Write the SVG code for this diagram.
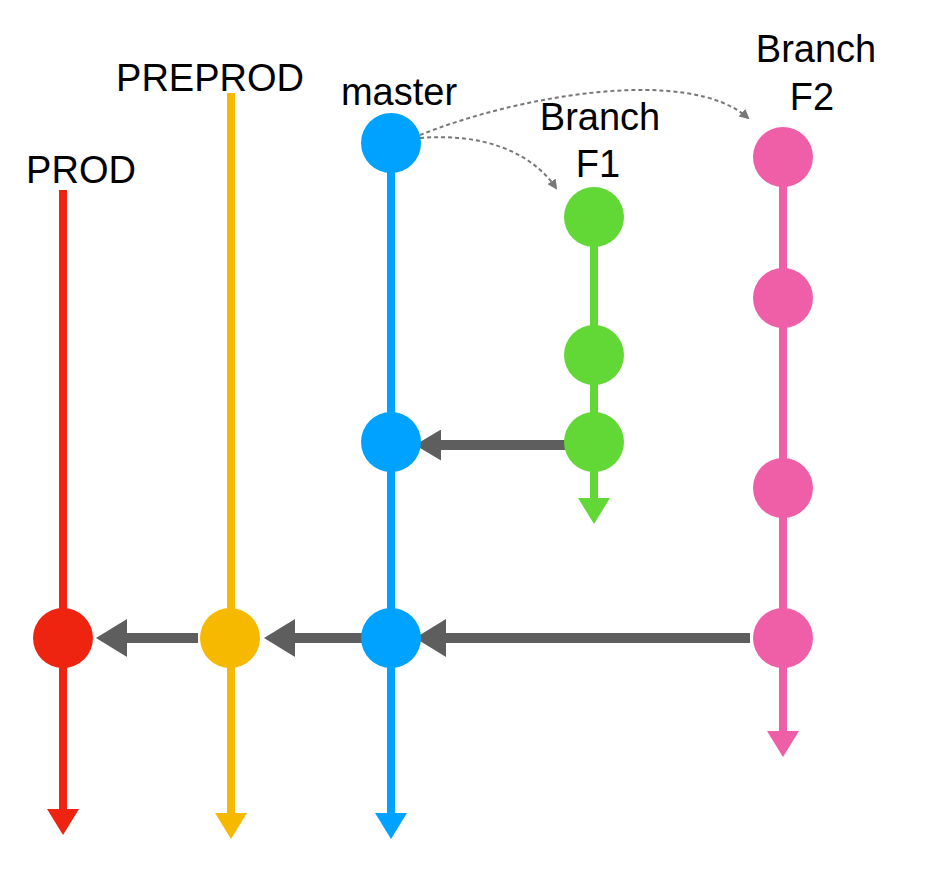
<svg xmlns="http://www.w3.org/2000/svg" width="936" height="879" viewBox="0 0 936 879">
<style>
  text { font-family: "Liberation Sans", Arial, sans-serif; font-size: 38px; fill: #000; text-anchor: middle; }
  .branch { fill: none; stroke-width: 8; }
  .merge { fill: none; stroke: #5E5E5E; stroke-width: 10; }
  .dotted { fill: none; stroke: #777; stroke-width: 2; stroke-dasharray: 4 3; }
</style>
<defs>
  <marker id="hRed" markerUnits="userSpaceOnUse" viewBox="0 0 26 32" markerWidth="26" markerHeight="32" refX="1" refY="16" orient="auto"><path d="M0,0 L26,16 L0,32 z" fill="#EE2411"/></marker>
  <marker id="hYellow" markerUnits="userSpaceOnUse" viewBox="0 0 26 32" markerWidth="26" markerHeight="32" refX="1" refY="16" orient="auto"><path d="M0,0 L26,16 L0,32 z" fill="#F7B900"/></marker>
  <marker id="hBlue" markerUnits="userSpaceOnUse" viewBox="0 0 26 32" markerWidth="26" markerHeight="32" refX="1" refY="16" orient="auto"><path d="M0,0 L26,16 L0,32 z" fill="#00A2FF"/></marker>
  <marker id="hGreen" markerUnits="userSpaceOnUse" viewBox="0 0 26 32" markerWidth="26" markerHeight="32" refX="1" refY="16" orient="auto"><path d="M0,0 L26,16 L0,32 z" fill="#61D836"/></marker>
  <marker id="hPink" markerUnits="userSpaceOnUse" viewBox="0 0 26 32" markerWidth="26" markerHeight="32" refX="1" refY="16" orient="auto"><path d="M0,0 L26,16 L0,32 z" fill="#EF5FA7"/></marker>
  <marker id="hGray" markerUnits="userSpaceOnUse" viewBox="0 0 31 38" markerWidth="31" markerHeight="38" refX="1" refY="19" orient="auto"><path d="M0,0 L31,19 L0,38 z" fill="#5E5E5E"/></marker>
  <marker id="hGraySm" markerUnits="userSpaceOnUse" viewBox="0 0 26 31" markerWidth="26" markerHeight="31" refX="1" refY="15.5" orient="auto"><path d="M0,0 L26,15.5 L0,31 z" fill="#5E5E5E"/></marker>
  <marker id="hDot" markerUnits="userSpaceOnUse" viewBox="0 0 10 10" markerWidth="10" markerHeight="10" refX="8" refY="5" orient="auto"><path d="M0,0 L10,5 L0,10 z" fill="#777"/></marker>
</defs>

<g id="connectors">
  <line class="branch" x1="63" y1="190" x2="63" y2="810" stroke="#EE2411" marker-end="url(#hRed)"/>
  <line class="branch" x1="231" y1="93" x2="231" y2="814" stroke="#F7B900" marker-end="url(#hYellow)"/>
  <line class="branch" x1="391" y1="143" x2="391" y2="814" stroke="#00A2FF" marker-end="url(#hBlue)"/>
  <line class="branch" x1="594" y1="217" x2="594" y2="499" stroke="#61D836" marker-end="url(#hGreen)"/>
  <line class="branch" x1="783" y1="157" x2="783" y2="732" stroke="#EF5FA7" marker-end="url(#hPink)"/>

  <line class="merge" x1="750" y1="638" x2="445" y2="638" marker-end="url(#hGray)"/>
  <line class="merge" x1="362" y1="638" x2="294" y2="638" marker-end="url(#hGray)"/>
  <line class="merge" x1="198" y1="638" x2="126" y2="638" marker-end="url(#hGray)"/>
  <line class="merge" x1="566" y1="445" x2="440" y2="445" stroke-width="8" marker-end="url(#hGraySm)"/>

  <path class="dotted" d="M420,138 C 480,133 530,150 556,188" marker-end="url(#hDot)"/>
  <path class="dotted" d="M420,135 C 520,95 690,66 748,118" marker-end="url(#hDot)"/>
</g>

<g id="prod">
  <text x="81" y="183">PROD</text>
  <circle cx="63" cy="638" r="30" fill="#EE2411"/>
</g>
<g id="preprod">
  <text x="210" y="91">PREPROD</text>
  <circle cx="230" cy="638" r="30" fill="#F7B900"/>
</g>
<g id="master">
  <text x="399" y="105">master</text>
  <circle cx="391" cy="143" r="30" fill="#00A2FF"/>
  <circle cx="391" cy="442" r="30" fill="#00A2FF"/>
  <circle cx="391" cy="638" r="30" fill="#00A2FF"/>
</g>
<g id="branchF1">
  <text x="600" y="130">Branch</text>
  <text x="598" y="177">F1</text>
  <circle cx="594" cy="217" r="30" fill="#61D836"/>
  <circle cx="594" cy="355" r="30" fill="#61D836"/>
  <circle cx="594" cy="442" r="30" fill="#61D836"/>
</g>
<g id="branchF2">
  <text x="816" y="62">Branch</text>
  <text x="812" y="110">F2</text>
  <circle cx="783" cy="157" r="30" fill="#EF5FA7"/>
  <circle cx="783" cy="298" r="30" fill="#EF5FA7"/>
  <circle cx="783" cy="488" r="30" fill="#EF5FA7"/>
  <circle cx="783" cy="638" r="30" fill="#EF5FA7"/>
</g>
</svg>
